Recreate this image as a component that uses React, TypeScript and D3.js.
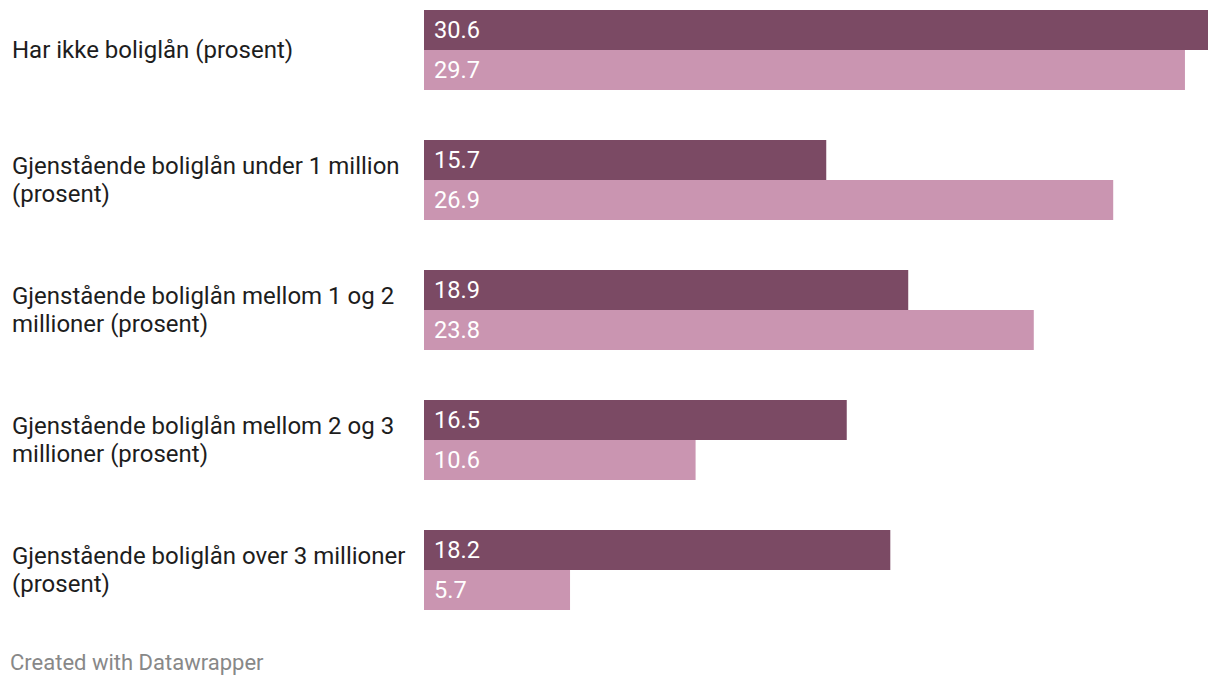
import React from "react";
import * as d3 from "d3";

const categories = [
  "Har ikke boliglån (prosent)",
  "Gjenstående boliglån under 1 million\n(prosent)",
  "Gjenstående boliglån mellom 1 og 2\nmillioner (prosent)",
  "Gjenstående boliglån mellom 2 og 3\nmillioner (prosent)",
  "Gjenstående boliglån over 3 millioner\n(prosent)",
];
const seriesA = [30.6, 15.7, 18.9, 16.5, 18.2];
const seriesB = [29.7, 26.9, 23.8, 10.6, 5.7];
const colorA = "#7b4a64";
const colorB = "#ca95b1";

export default function App() {
  const W = 1220, H = 686;
  const x = d3.scaleLinear().domain([0, 30.6]).range([424, 1208]);
  const y = d3.scaleBand<string>().domain(categories).range([10, 610]).paddingInner(50 / 130).paddingOuter(0);
  const bh = y.bandwidth() / 2;
  const font = "Roboto, sans-serif";
  return (
    <svg width={W} height={H} style={{ position: "absolute", left: 0, top: 0 }} fontFamily={font}>
      <rect width={W} height={H} fill="#fff" />
      {categories.map((c, i) => {
        const y0 = y(c)!;
        const lines = c.split("\n");
        const cy = y0 + y.bandwidth() / 2;
        const lh = 28;
        return (
          <g key={c}>
            {lines.map((l, j) => (
              <text key={j} x={12} y={cy + (j - (lines.length - 1) / 2) * lh} dy="0.35em" fontSize={24} fill="#1d1d1d">
                {l}
              </text>
            ))}
            <rect x={x(0)} y={y0} width={x(seriesA[i]) - x(0)} height={bh} fill={colorA} />
            <rect x={x(0)} y={y0 + bh} width={x(seriesB[i]) - x(0)} height={bh} fill={colorB} />
            <text x={x(0) + 10} y={y0 + bh / 2} dy="0.35em" fontSize={23.6} fill="#fff">{seriesA[i].toFixed(1)}</text>
            <text x={x(0) + 10} y={y0 + bh * 1.5} dy="0.35em" fontSize={23.6} fill="#fff">{seriesB[i].toFixed(1)}</text>
          </g>
        );
      })}
      <text x={10} y={662} dy="0.35em" fontSize={22} fill="#888">Created with Datawrapper</text>
    </svg>
  );
}
